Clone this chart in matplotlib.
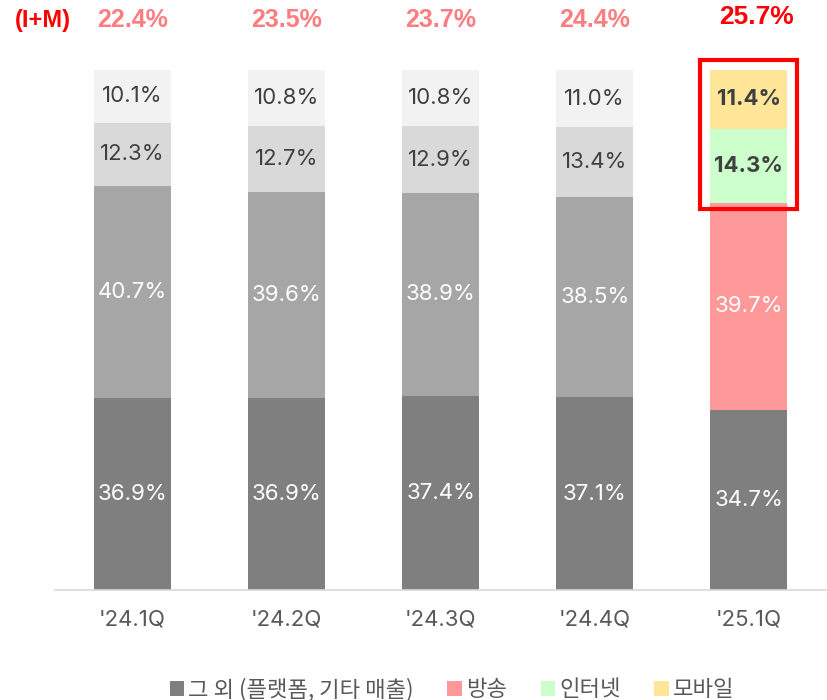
import numpy as np
import matplotlib.pyplot as plt
from matplotlib.patches import Rectangle, Patch

plt.rcParams['font.family'] = ['Inter', 'Noto Sans CJK KR', 'DejaVu Sans']

# data
quarters = ["'24.1Q", "'24.2Q", "'24.3Q", "'24.4Q", "'25.1Q"]
others = [36.9, 36.9, 37.4, 37.1, 34.7]      # 그 외 (플랫폼, 기타 매출)
broadcast = [40.7, 39.6, 38.9, 38.5, 39.7]   # 방송
internet = [12.3, 12.7, 12.9, 13.4, 14.3]    # 인터넷
mobile = [10.1, 10.8, 10.8, 11.0, 11.4]      # 모바일
im_share = ['22.4%', '23.5%', '23.7%', '24.4%', '25.7%']
legend_labels = ['그 외 (플랫폼, 기타 매출)', '방송', '인터넷', '모바일']

series = [others, broadcast, internet, mobile]
past_colors = ['#7f7f7f', '#a6a6a6', '#d9d9d9', '#f2f2f2']
last_colors = ['#7f7f7f', '#ff9999', '#ccffcc', '#ffe699']
text_colors = ['white', 'white', '#404040', '#404040']

fig = plt.figure(figsize=(8.28, 7.0), dpi=100)
ax = fig.add_axes([55 / 828, 110 / 700, 771 / 828, 520 / 700])

x = np.arange(len(quarters))
bottom = np.zeros(len(quarters))
for i, vals in enumerate(series):
    vals = np.array(vals)
    cols = [past_colors[i]] * 4 + [last_colors[i]]
    ax.bar(x, vals, width=0.5, bottom=bottom, color=cols, edgecolor='none')
    for j, v in enumerate(vals):
        last = j == len(quarters) - 1
        bold = last and i >= 2
        ax.text(x[j], bottom[j] + v / 2, f'{v:.1f}%', ha='center', va='center',
                fontsize=16, color=text_colors[i],
                fontweight='bold' if bold else 'normal')
    bottom += vals

# I+M share on top
narrow = ['Liberation Sans Narrow', 'Liberation Sans', 'DejaVu Sans']
ax.text(-0.577, 109.6, '(I+M)', ha='center', va='center', color='#ff0000',
        fontsize=17, fontweight='bold', family=narrow, clip_on=False)
for j, s in enumerate(im_share):
    last = j == len(quarters) - 1
    ax.text(x[j] + (0.05 if last else 0), 110.2 if last else 109.6, s,
            ha='center', va='center',
            color='#ff0000' if last else '#ff7c80', fontsize=19 if last else 18,
            fontweight='bold', family=narrow, clip_on=False)

# highlight box
ax.add_patch(Rectangle((4 - 0.315, 73.2), 0.63, 28.8, fill=False,
                       edgecolor='#ff0000', linewidth=3, clip_on=False, zorder=5))

ax.set_xlim(-0.5, 4.5)
ax.set_ylim(0, 100)
ax.set_xticks(x)
ax.set_xticklabels(quarters, fontsize=16, color='#595959')
ax.tick_params(axis='x', length=0, pad=14)
ax.set_yticks([])
for s in ['top', 'left', 'right']:
    ax.spines[s].set_visible(False)
ax.spines['bottom'].set_color('#d9d9d9')
ax.spines['bottom'].set_linewidth(1.2)

handles = [Patch(facecolor=c, edgecolor='none') for c in last_colors]
fig.legend(handles, legend_labels, loc='center', bbox_to_anchor=(0.546, 0.015),
           ncol=4, frameon=False, handlelength=0.65, handleheight=0.65,
           handletextpad=0.2, columnspacing=1.5,
           prop={'family': 'Noto Sans CJK KR', 'size': 16}, labelcolor='#595959')

fig.savefig('out.png', dpi=100)
